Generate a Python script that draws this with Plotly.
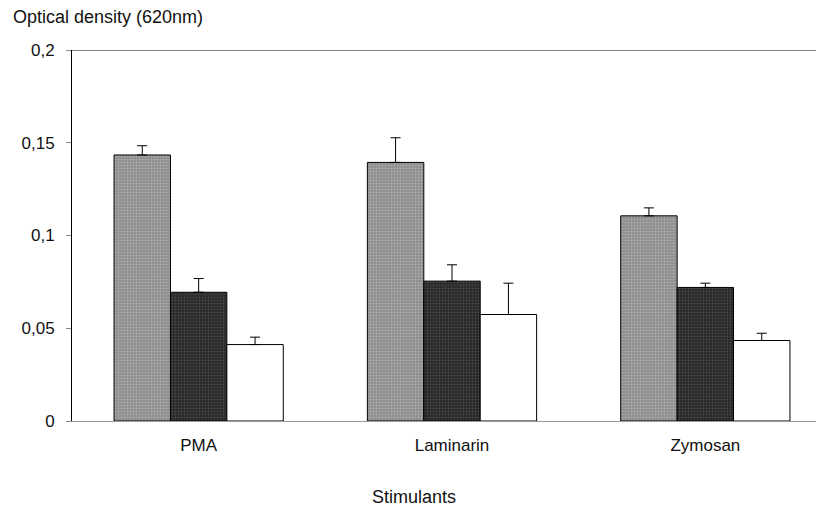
import plotly.graph_objects as go

categories = ["PMA", "Laminarin", "Zymosan"]
series1 = [0.1434, 0.1394, 0.1106]
err1 = [0.0050, 0.0133, 0.0043]
series2 = [0.0694, 0.0754, 0.0720]
err2 = [0.0074, 0.0088, 0.0023]
series3 = [0.0412, 0.0574, 0.0434]
err3 = [0.0040, 0.0169, 0.0039]
ytick_vals = [0, 0.05, 0.1, 0.15, 0.2]
ytick_text = ["0", "0,05", "0,1", "0,15", "0,2"]

fig = go.Figure()

def add(vals, errs, color, pattern_fg=None):
    marker = dict(color=color, line=dict(color="black", width=1))
    if pattern_fg:
        marker["pattern"] = dict(shape=".", fgcolor=pattern_fg, bgcolor=color,
                                 size=3, solidity=0.35, fillmode="overlay")
    fig.add_trace(go.Bar(
        x=categories, y=vals, marker=marker,
        error_y=dict(type="data", symmetric=False, array=errs,
                     arrayminus=[0]*len(errs), color="black",
                     thickness=1, width=5),
        showlegend=False,
    ))

add(series1, err1, "#8c8c8c", "#d0d0d0")
add(series2, err2, "#262626", "#6a6a6a")
add(series3, err3, "white")

fig.add_shape(type="line", xref="paper", yref="y", x0=0, x1=1, y0=0.2, y1=0.2,
              line=dict(color="black", width=1))

fig.update_layout(
    width=824, height=511,
    margin=dict(l=64, r=0, t=42, b=98),
    paper_bgcolor="white", plot_bgcolor="white",
    barmode="group", bargap=0.332, bargroupgap=0,
    separators=",.",
    font=dict(family="Liberation Sans, Arial, sans-serif", size=16, color="#111111"),
    xaxis=dict(range=[-0.5, 2.5], showline=True, linecolor="#999999", linewidth=1,
               ticks="", showgrid=False, tickfont=dict(size=17), ticklabelstandoff=9),
    yaxis=dict(range=[0, 0.2], showline=True, linecolor="black", linewidth=1,
               ticks="outside", ticklen=5, tickcolor="#888888",
               tickvals=ytick_vals, ticktext=ytick_text, ticklabelstandoff=8,
               showgrid=False, zeroline=False, tickfont=dict(size=17)),
    annotations=[
        dict(text="Optical density (620nm)", xref="paper", yref="paper",
             x=0, xshift=-61, y=1.0, yshift=33, xanchor="left", yanchor="middle",
             showarrow=False, font=dict(size=18)),
        dict(text="Stimulants", xref="paper", yref="paper",
             x=0, xshift=342, y=0, yshift=-76, xanchor="center", yanchor="middle",
             showarrow=False, font=dict(size=18)),
    ],
)

fig.write_html("out.html")
